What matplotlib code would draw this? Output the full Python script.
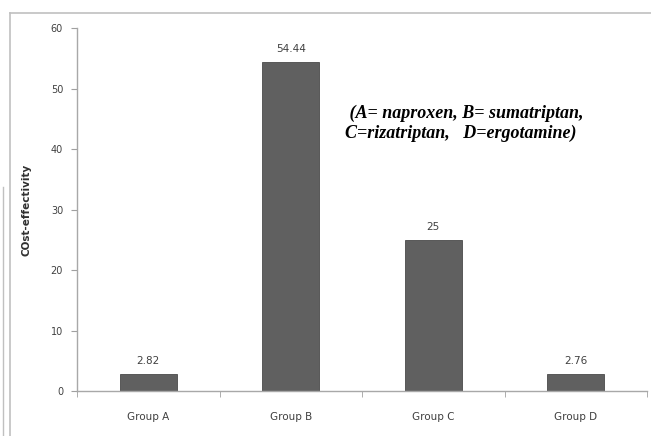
import matplotlib.pyplot as plt
from matplotlib.lines import Line2D

# data
groups = ['Group A', 'Group B', 'Group C', 'Group D']
cost_eff = [2.82, 54.44, 25, 2.76]
value_labels = ['2.82', '54.44', '25', '2.76']
y_ticks = [0, 10, 20, 30, 40, 50, 60]

W, H = 651, 436
fig = plt.figure(figsize=(W / 100, H / 100), dpi=100)
ax = fig.add_axes([77 / W, 1 - 391 / H, (647 - 77) / W, (391 - 28) / H])

pos = list(range(len(groups)))
ax.bar(pos, cost_eff, width=0.4, color='#606060', edgecolor='#4a4a4a', linewidth=0.6)
for p, v, lab in zip(pos, cost_eff, value_labels):
    ax.text(p, v + 1.3, lab, ha='center', va='bottom', fontsize=7.5, color='#404040')

ax.set_xlim(-0.5, len(groups) - 0.5)
ax.set_ylim(0, 60)
ax.set_yticks(y_ticks)
ax.set_yticklabels([str(t) for t in y_ticks], fontsize=7, color='#404040')
ax.set_xticks(pos)
ax.set_xticklabels(groups, fontsize=7.5, color='#404040')
ax.tick_params(axis='x', length=0, pad=15)
ax.set_xticks([p + 0.5 for p in [-1] + pos], minor=True)
ax.tick_params(axis='x', which='minor', length=4, color='#a0a0a0', direction='out')
ax.tick_params(axis='y', length=4, color='#a0a0a0', direction='out', pad=6)

for s in ['top', 'right']:
    ax.spines[s].set_visible(False)
for s in ['left', 'bottom']:
    ax.spines[s].set_color('#a8a8a8')
    ax.spines[s].set_linewidth(1.0)

ax.set_ylabel('COst-effectivity', fontsize=7.5, fontweight='bold', color='#303030', labelpad=14)

ax.text(0.470, 0.738, ' (A= naproxen, B= sumatriptan,\nC=rizatriptan,   D=ergotamine)',
        transform=ax.transAxes, ha='left', va='center', multialignment='left',
        fontsize=13, family='Liberation Serif', style='italic', fontweight='bold',
        linespacing=1.2, color='black')

# chart area border (spreadsheet frame)
frame = '#c0c0c0'
fig.add_artist(Line2D([10 / W, 1], [1 - 13 / H, 1 - 13 / H], color=frame, lw=1.2, transform=fig.transFigure))
fig.add_artist(Line2D([10 / W, 10 / W], [0, 1 - 13 / H], color=frame, lw=1.2, transform=fig.transFigure))
fig.add_artist(Line2D([3 / W, 3 / W], [0, 1 - 187 / H], color=frame, lw=1.0, transform=fig.transFigure))

fig.savefig('out.png', dpi=100)
